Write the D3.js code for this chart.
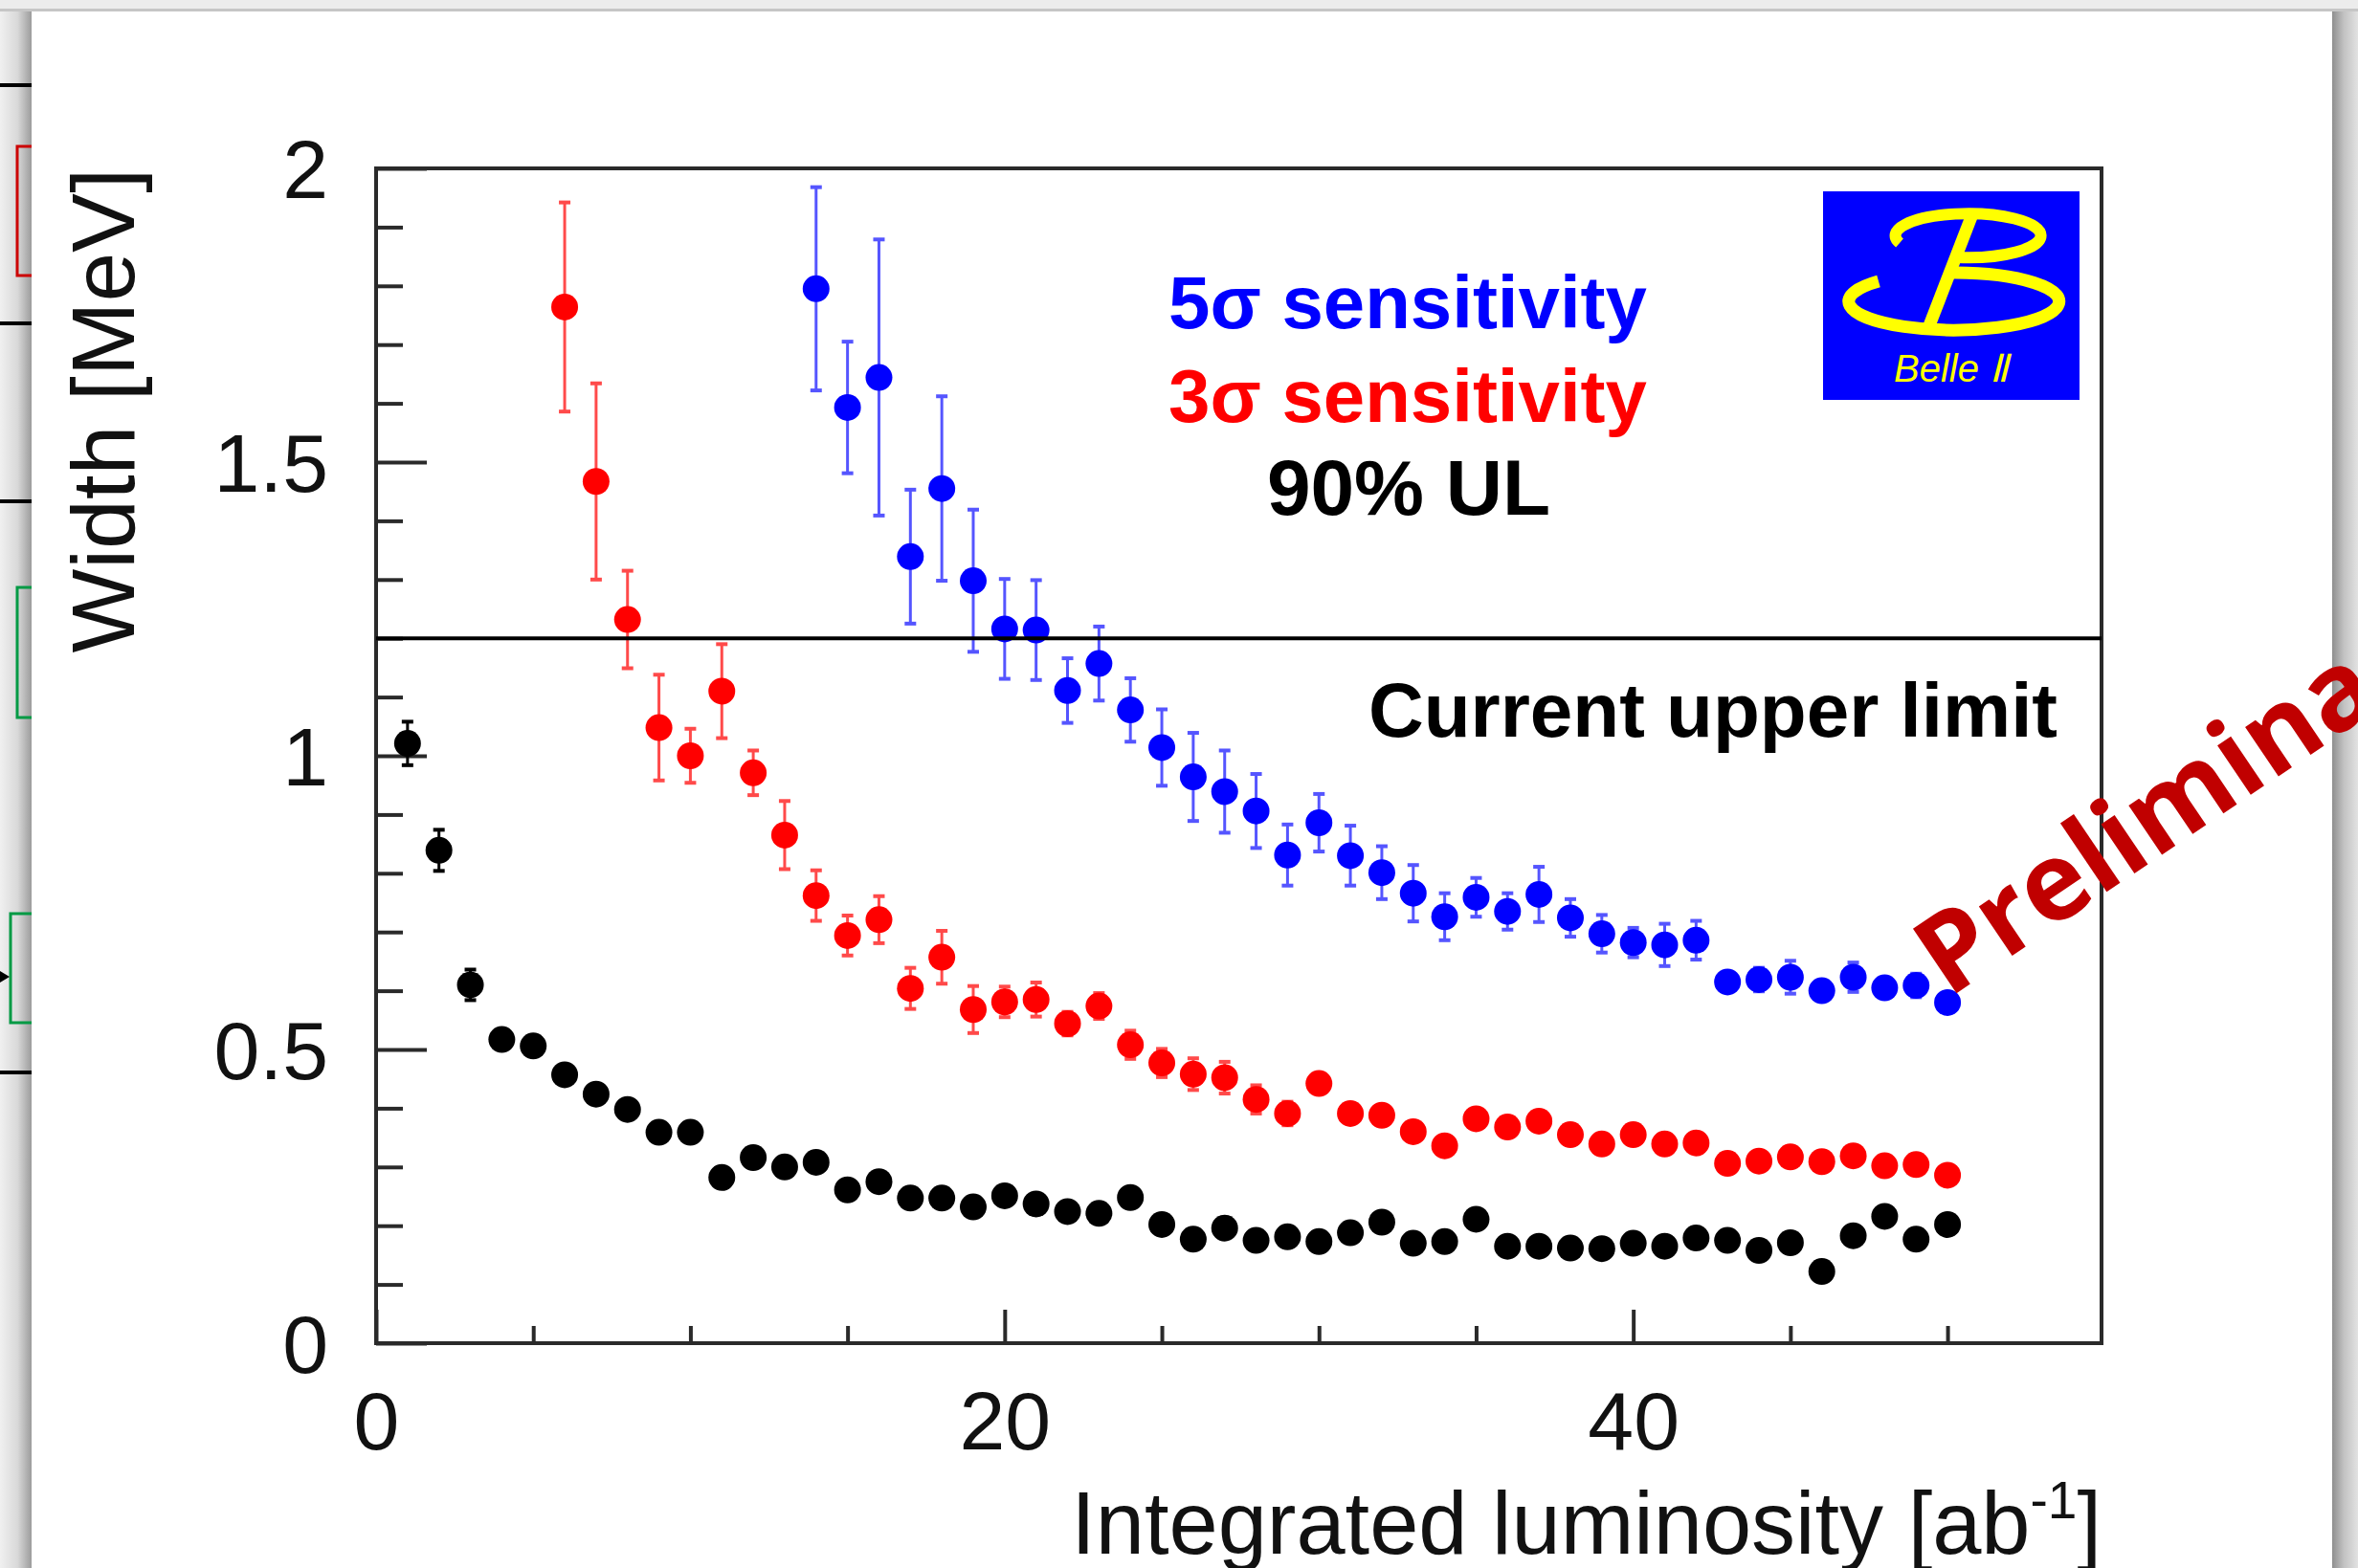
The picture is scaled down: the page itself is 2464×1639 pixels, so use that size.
<!DOCTYPE html>
<html>
<head>
<meta charset="utf-8">
<script src="https://cdn.jsdelivr.net/npm/d3@7"></script>
<style>
  html, body { margin: 0; padding: 0; background: #e9e9e9; overflow: hidden; }
  svg { display: block; }
  .axis path { display: none; }
  .axis line { stroke: #2a2a2a; stroke-width: 4; }
  .axis text { font-family: "Liberation Sans", Arial, Helvetica, sans-serif; font-size: 86px; fill: #111; }
</style>
</head>
<body>
<svg id="chart" width="2464" height="1639"></svg>
<script>
// integrated luminosity steps [ab^-1]
const lumi = [1, 2, 3, 4, 5, 6, 7, 8, 9, 10, 11, 12, 13, 14, 15, 16, 17, 18, 19, 20,
  21, 22, 23, 24, 25, 26, 27, 28, 29, 30, 31, 32, 33, 34, 35, 36, 37, 38, 39, 40,
  41, 42, 43, 44, 45, 46, 47, 48, 49, 50];

// 90% UL (black), starts at 1 ab^-1
const ulWidth = [1.021, 0.839, 0.610, 0.517, 0.506, 0.457, 0.424, 0.398, 0.359, 0.359,
  0.282, 0.316, 0.300, 0.308, 0.261, 0.275, 0.247, 0.247, 0.232, 0.251,
  0.237, 0.224, 0.221, 0.248, 0.202, 0.177, 0.196, 0.175, 0.181, 0.173,
  0.188, 0.206, 0.170, 0.173, 0.211, 0.165, 0.165, 0.162, 0.161, 0.170,
  0.165, 0.179, 0.175, 0.158, 0.171, 0.122, 0.183, 0.216, 0.177, 0.202];
const ulErr = [0.037, 0.035, 0.026, 0.015, 0.015, 0.012, 0.012, 0.012, 0.010, 0.010,
  0.010, 0.010, 0.010, 0.010, 0.010, 0.010, 0.010, 0.010, 0.010, 0.010,
  0.008, 0.008, 0.008, 0.008, 0.008, 0.008, 0.008, 0.008, 0.008, 0.008,
  0.008, 0.008, 0.008, 0.008, 0.008, 0.008, 0.008, 0.008, 0.008, 0.008,
  0.008, 0.008, 0.008, 0.008, 0.008, 0.008, 0.008, 0.008, 0.008, 0.008];

// 3 sigma sensitivity (red), starts at 6 ab^-1
const s3Lumi = lumi.slice(5);
const s3Width = [1.764, 1.467, 1.232, 1.048, 1.000, 1.110, 0.971, 0.865, 0.762, 0.694,
  0.721, 0.604, 0.657, 0.568, 0.581, 0.585, 0.544, 0.574, 0.508, 0.477,
  0.458, 0.452, 0.415, 0.391, 0.442, 0.391, 0.388, 0.360, 0.336, 0.382,
  0.368, 0.378, 0.355, 0.339, 0.355, 0.339, 0.341, 0.306, 0.310, 0.317,
  0.309, 0.319, 0.302, 0.304, 0.286];
const s3Err = [0.178, 0.167, 0.083, 0.090, 0.046, 0.080, 0.038, 0.058, 0.043, 0.034,
  0.040, 0.035, 0.045, 0.040, 0.026, 0.029, 0.020, 0.022, 0.024, 0.024,
  0.027, 0.027, 0.024, 0.020, 0.016, 0.016, 0.015, 0.015, 0.014, 0.013,
  0.013, 0.013, 0.012, 0.012, 0.012, 0.011, 0.011, 0.010, 0.010, 0.010,
  0.010, 0.010, 0.010, 0.010, 0.010];

// 5 sigma sensitivity (blue), starts at 14 ab^-1
const s5Lumi = lumi.slice(13);
const s5Width = [1.795, 1.593, 1.644, 1.339, 1.455, 1.298, 1.216, 1.214, 1.111, 1.157,
  1.078, 1.014, 0.964, 0.939, 0.906, 0.831, 0.886, 0.830, 0.801, 0.766,
  0.726, 0.759, 0.735, 0.764, 0.724, 0.697, 0.682, 0.678, 0.686, 0.615,
  0.619, 0.623, 0.600, 0.623, 0.605, 0.609, 0.580];
const s5Err = [0.173, 0.112, 0.235, 0.114, 0.157, 0.121, 0.085, 0.085, 0.055, 0.063,
  0.054, 0.065, 0.075, 0.070, 0.063, 0.052, 0.049, 0.051, 0.045, 0.048,
  0.040, 0.033, 0.031, 0.047, 0.032, 0.032, 0.025, 0.036, 0.033, 0.016,
  0.020, 0.028, 0.015, 0.025, 0.015, 0.020, 0.015];

const xMajor = [0, 20, 40];
const xMinor = [5, 10, 15, 25, 30, 35, 45, 50];
const yMajor = [0, 0.5, 1, 1.5, 2];
const yMinor = [0.1, 0.2, 0.3, 0.4, 0.6, 0.7, 0.8, 0.9, 1.1, 1.2, 1.3, 1.4, 1.6, 1.7, 1.8, 1.9];
const currentLimit = 1.2;

const svg = d3.select("#chart");
const defs = svg.append("defs");

// ---- slide backdrop ----
const leftGrad = defs.append("linearGradient").attr("id", "leftShade");
leftGrad.append("stop").attr("offset", "0").attr("stop-color", "#f0f0f0");
leftGrad.append("stop").attr("offset", "0.55").attr("stop-color", "#d9d9d9");
leftGrad.append("stop").attr("offset", "1").attr("stop-color", "#9c9c9c");
const rightGrad = defs.append("linearGradient").attr("id", "rightShade");
rightGrad.append("stop").attr("offset", "0").attr("stop-color", "#8e8e8e");
rightGrad.append("stop").attr("offset", "0.45").attr("stop-color", "#c2c2c2");
rightGrad.append("stop").attr("offset", "1").attr("stop-color", "#e2e2e2");

svg.append("rect").attr("width", 2464).attr("height", 1639).attr("fill", "#ececec");
svg.append("rect").attr("x", 0).attr("y", 12).attr("width", 33).attr("height", 1627).attr("fill", "url(#leftShade)");
svg.append("rect").attr("x", 2437).attr("y", 12).attr("width", 27).attr("height", 1627).attr("fill", "url(#rightShade)");
svg.append("rect").attr("x", 0).attr("y", 9).attr("width", 2464).attr("height", 3).attr("fill", "#c6c6c6");
svg.append("rect").attr("x", 33).attr("y", 12).attr("width", 2404).attr("height", 1627).attr("fill", "#fff");

// bits of the neighbouring slide on the left
[89, 338, 524, 1121].forEach(yy => {
  svg.append("line").attr("x1", 0).attr("x2", 33).attr("y1", yy).attr("y2", yy)
    .attr("stroke", "#000").attr("stroke-width", 4);
});
svg.append("path").attr("d", "M33,153 H18 V288 H33").attr("fill", "none").attr("stroke", "#cc0000").attr("stroke-width", 3);
svg.append("path").attr("d", "M33,614 H18 V750 H33").attr("fill", "none").attr("stroke", "#009a44").attr("stroke-width", 3);
svg.append("path").attr("d", "M33,955 H11 V1069 H33").attr("fill", "none").attr("stroke", "#009a44").attr("stroke-width", 3);
svg.append("path").attr("d", "M0,1015 L10,1021 L0,1027 Z").attr("fill", "#000");

// ---- plot ----
const plotLeft = 393, plotRight = 2196, plotTop = 176, plotBottom = 1404;
const x = d3.scaleLinear().domain([0, 54.9]).range([plotLeft, plotRight]);
const y = d3.scaleLinear().domain([0, 2]).range([plotBottom, plotTop]);

// frame
svg.append("rect").attr("x", plotLeft).attr("y", plotTop)
  .attr("width", plotRight - plotLeft).attr("height", plotBottom - plotTop)
  .attr("fill", "none").attr("stroke", "#2a2a2a").attr("stroke-width", 4);

// y axis (ticks drawn inwards)
svg.append("g").attr("class", "axis").attr("transform", `translate(${plotLeft},0)`)
  .call(d3.axisLeft(y).tickValues(yMinor).tickSize(-28).tickFormat(""));
svg.append("g").attr("class", "axis").attr("transform", `translate(${plotLeft},0)`)
  .call(d3.axisLeft(y).tickValues(yMajor).tickSize(-53).tickPadding(50).tickFormat(d3.format("~g")))
  .selectAll("text").attr("dy", "0.35em");

// x axis
svg.append("g").attr("class", "axis").attr("transform", `translate(0,${plotBottom})`)
  .call(d3.axisBottom(x).tickValues(xMinor).tickSize(-18).tickFormat(""));
svg.append("g").attr("class", "axis").attr("transform", `translate(0,${plotBottom})`)
  .call(d3.axisBottom(x).tickValues(xMajor).tickSize(-35).tickPadding(50).tickFormat(d3.format("d")));

// axis titles
svg.append("text")
  .attr("transform", `translate(140,${plotTop}) rotate(-90)`)
  .attr("text-anchor", "end")
  .style("font-family", "'Liberation Sans', Arial, sans-serif")
  .style("font-size", "93px").attr("fill", "#111")
  .text("Width [MeV]");

const xTitle = svg.append("text")
  .attr("x", plotRight).attr("y", 1624)
  .attr("text-anchor", "end")
  .style("font-family", "'Liberation Sans', Arial, sans-serif")
  .style("font-size", "92px").attr("fill", "#111");
xTitle.append("tspan").text("Integrated luminosity [ab");
xTitle.append("tspan").attr("dy", "-37").style("font-size", "55px").text("-1");
xTitle.append("tspan").attr("dy", "37").text("]");

// series
function drawSeries(xs, vals, errs, color, barColor) {
  const g = svg.append("g");
  const pts = xs.map((d, i) => ({ x: d, v: vals[i], e: errs[i] }));
  g.selectAll(".bar").data(pts).enter().append("line")
    .attr("x1", d => x(d.x)).attr("x2", d => x(d.x))
    .attr("y1", d => y(d.v + d.e)).attr("y2", d => y(d.v - d.e))
    .attr("stroke", barColor).attr("stroke-width", 3);
  g.selectAll(".capTop").data(pts).enter().append("line")
    .attr("x1", d => x(d.x) - 6).attr("x2", d => x(d.x) + 6)
    .attr("y1", d => y(d.v + d.e)).attr("y2", d => y(d.v + d.e))
    .attr("stroke", barColor).attr("stroke-width", 4);
  g.selectAll(".capBot").data(pts).enter().append("line")
    .attr("x1", d => x(d.x) - 6).attr("x2", d => x(d.x) + 6)
    .attr("y1", d => y(d.v - d.e)).attr("y2", d => y(d.v - d.e))
    .attr("stroke", barColor).attr("stroke-width", 4);
  g.selectAll(".dot").data(pts).enter().append("circle")
    .attr("cx", d => x(d.x)).attr("cy", d => y(d.v)).attr("r", 14)
    .attr("fill", color);
}

drawSeries(lumi, ulWidth, ulErr, "#000000", "#000000");
drawSeries(s3Lumi, s3Width, s3Err, "#ff0000", "#ff4a4a");
drawSeries(s5Lumi, s5Width, s5Err, "#0000ff", "#5555ff");

// current upper limit line
svg.append("line")
  .attr("x1", x(0)).attr("x2", plotRight)
  .attr("y1", y(currentLimit)).attr("y2", y(currentLimit))
  .attr("stroke", "#000").attr("stroke-width", 4);

// labels in the plot
const boldFont = "'Liberation Sans', Arial, Helvetica, sans-serif";
function label(txt, xp, yp, color, anchor, size) {
  svg.append("text").attr("x", xp).attr("y", yp)
    .attr("text-anchor", anchor)
    .style("font-family", boldFont).style("font-weight", "bold").style("font-size", size + "px")
    .attr("fill", color).text(txt);
}
label("5σ sensitivity", 1471, 343, "#0000ff", "middle", 78);
label("3σ sensitivity", 1471, 441, "#ff0000", "middle", 78);
label("90% UL", 1472, 538, "#000", "middle", 82);
label("Current upper limit", 2150, 770, "#000", "end", 80);

// Belle II logo
const logo = svg.append("g").attr("transform", "translate(1905,200)");
logo.append("rect").attr("width", 268).attr("height", 218).attr("fill", "#0000ff");
logo.append("path").attr("d", "M80,54 A76,23 0 1,1 140,69")
  .attr("fill", "none").attr("stroke", "#ffff00").attr("stroke-width", 12);
logo.append("path").attr("d", "M58,94 A110,30 0 1,0 130,85")
  .attr("fill", "none").attr("stroke", "#ffff00").attr("stroke-width", 13);
logo.append("line").attr("x1", 156).attr("y1", 24).attr("x2", 110).attr("y2", 143)
  .attr("stroke", "#ffff00").attr("stroke-width", 13);
logo.append("text").attr("x", 74).attr("y", 199)
  .style("font-family", "'Liberation Sans', Arial, sans-serif").style("font-style", "italic")
  .style("font-size", "40px").attr("fill", "#ffff00").text("Belle Ⅱ");

// watermark
svg.append("text")
  .attr("transform", "translate(2036,1044) rotate(-34)")
  .style("font-family", "'Open Sans', sans-serif").style("font-weight", "bold")
  .style("font-size", "114px").attr("fill", "#c00000")
  .text("Preliminary");
</script>
</body>
</html>
